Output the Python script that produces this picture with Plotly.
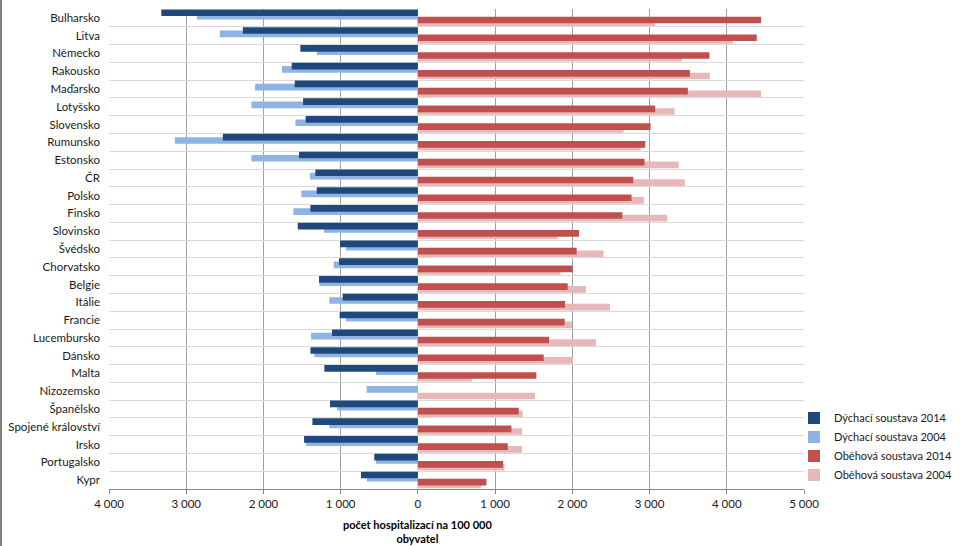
import plotly.graph_objects as go

countries = ["Bulharsko", "Litva", "Německo", "Rakousko", "Maďarsko", "Lotyšsko",
             "Slovensko", "Rumunsko", "Estonsko", "ČR", "Polsko", "Finsko",
             "Slovinsko", "Švédsko", "Chorvatsko", "Belgie", "Itálie", "Francie",
             "Lucembursko", "Dánsko", "Malta", "Nizozemsko", "Španělsko",
             "Spojené království", "Irsko", "Portugalsko", "Kypr"]

resp_2014 = [3323, 2267, 1522, 1634, 1595, 1487, 1453, 2526, 1539, 1328, 1310, 1392,
             1556, 1009, 1022, 1280, 974, 1013, 1112, 1392, 1211, None, 1138,
             1366, 1474, 565, 737]
resp_2004 = [2862, 2565, 1310, 1759, 2108, 2155, 1586, 3147, 2155, 1397, 1509, 1612,
             1216, 931, 1090, 1275, 1147, 931, 1384, 1341, 543, 664, 1043,
             1147, 1448, 543, 660]
circ_2014 = [4444, 4388, 3776, 3522, 3496, 3073, 3013, 2944, 2935, 2789, 2767, 2647,
             2086, 2056, 2004, 1940, 1905, 1901, 1698, 1629, 1534, None, 1306,
             1211, 1164, 1103, 888]
circ_2004 = [3073, 4078, 3418, 3780, 4444, 3323, 2664, 2884, 3379, 3457, 2927, 3228,
             1810, 2405, 1845, 2177, 2487, 1996, 2306, 2009, 698, 1517, 1358,
             1349, 1349, 1121, 820]

x_ticks = [-4000, -3000, -2000, -1000, 0, 1000, 2000, 3000, 4000, 5000]
x_tick_labels = ["4 000", "3 000", "2 000", "1 000", "0", "1 000", "2 000", "3 000", "4 000", "5 000"]

series_names = ["Dýchací soustava 2014", "Dýchací soustava 2004",
                "Oběhová soustava 2014", "Oběhová soustava 2004"]
colors = ["#1F497D", "#8DB4E2", "#C0504D", "#E6B9B8"]

W, H = 963, 546
ML, MR, MT, MB = 109, 159, 9, 57
PW, PH = W - ML - MR, H - MT - MB

FONT = "Lato"
BAR_W = 0.375

def neg(vals):
    return [None if v is None else -v for v in vals]

fig = go.Figure()
# draw order: light behind dark
fig.add_trace(go.Bar(y=countries, x=neg(resp_2004), orientation="h", name=series_names[1],
                     marker=dict(color=colors[1], line=dict(width=0)),
                     offset=-0.29, width=BAR_W, legendrank=2))
fig.add_trace(go.Bar(y=countries, x=neg(resp_2014), orientation="h", name=series_names[0],
                     marker=dict(color=colors[0], line=dict(width=0)),
                     offset=-0.477, width=BAR_W, legendrank=1))
fig.add_trace(go.Bar(y=countries, x=circ_2004, orientation="h", name=series_names[3],
                     marker=dict(color=colors[3], line=dict(width=0)),
                     offset=0.08, width=BAR_W, legendrank=4))
fig.add_trace(go.Bar(y=countries, x=circ_2014, orientation="h", name=series_names[2],
                     marker=dict(color=colors[2], line=dict(width=0)),
                     offset=-0.07, width=BAR_W, legendrank=3))

fig.update_layout(
    width=W, height=H,
    margin=dict(l=ML, r=MR, t=MT, b=MB, pad=0, autoexpand=False),
    barmode="overlay",
    paper_bgcolor="white", plot_bgcolor="white",
    font=dict(family=FONT, size=11.5, color="#1a1a1a"),
    legend=dict(
        x=(794 - ML) / PW, y=(MT + PH - 446.5) / PH,
        xanchor="left", yanchor="middle",
        font=dict(family=FONT, size=11, color="#1a1a1a"),
        bgcolor="rgba(0,0,0,0)", traceorder="normal",
        itemclick=False, tracegroupgap=0,
    ),
    xaxis=dict(
        range=[-4000, 5000], tickvals=x_ticks, ticktext=x_tick_labels,
        showgrid=True, gridcolor="#A0A0A0", gridwidth=1,
        zeroline=True, zerolinecolor="#D9D9D9", zerolinewidth=1,
        showline=True, linecolor="#868686", linewidth=1,
        ticks="outside", ticklen=4, tickcolor="#868686",
        tickfont=dict(family=FONT, size=11.5, color="#1a1a1a"),
        fixedrange=True,
    ),
    yaxis=dict(
        type="category", categoryorder="array", categoryarray=countries,
        autorange="reversed",
        showgrid=True, gridcolor="#D9D9D9", gridwidth=1, tickson="boundaries",
        ticks="", showline=False, zeroline=False,
        ticklabelstandoff=8,
        tickfont=dict(family=FONT, size=11.5, color="#1a1a1a"),
        fixedrange=True,
    ),
    annotations=[dict(
        x=0, xref="x", y=(MT + PH - 516) / PH, yref="paper",
        text="počet hospitalizací na 100 000<br>obyvatel",
        showarrow=False, xanchor="center", yanchor="top", align="center",
        font=dict(family=FONT, size=11, color="#000000", weight="bold"),
    )],
    shapes=[dict(
        type="line", xref="paper", yref="paper",
        x0=(1 - ML) / PW, x1=(1 - ML) / PW,
        y0=(MT + PH) / PH, y1=(MT + PH - H) / PH,
        line=dict(color="#7F7F7F", width=2),
    )],
)

fig.write_html("out.html", config={"displayModeBar": False},
               post_script="document.body.style.margin='0';document.body.style.overflow='hidden';")
